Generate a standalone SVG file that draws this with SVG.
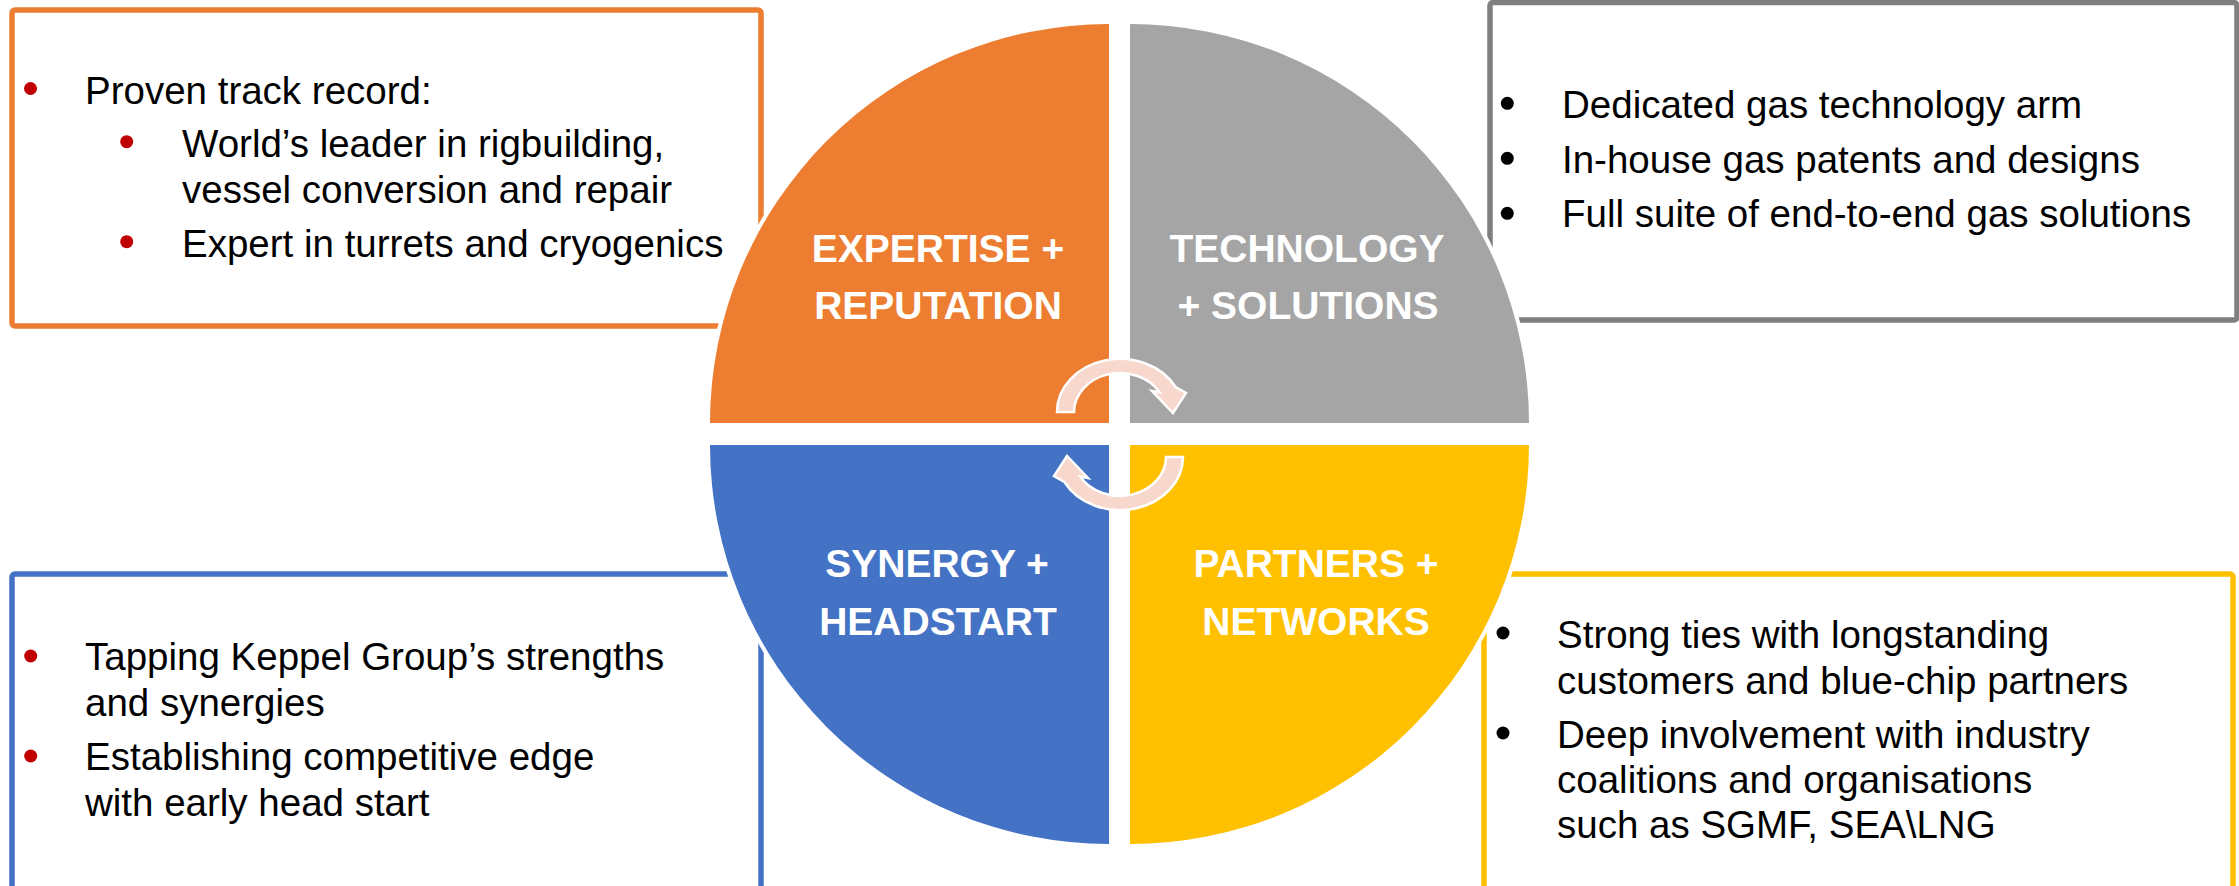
<svg xmlns="http://www.w3.org/2000/svg" width="2239" height="886" viewBox="0 0 2239 886">
<style>
.box{fill:#FFFFFF;stroke-width:5.5}
.q{stroke:#FFFFFF;stroke-width:8;paint-order:stroke}
.lbl{font-family:"Liberation Sans",Arial,sans-serif;font-weight:bold;font-size:39px;fill:#FFFFFF;text-anchor:middle}
.txt{font-family:"Liberation Sans",Arial,sans-serif;font-size:38.5px;fill:#000000}
.rb{fill:#C00000}
.bb{fill:#000000}
.arr{fill:#F8D7CC;stroke:#FFFFFF;stroke-width:2.5;stroke-linejoin:miter}
</style>
<rect width="2239" height="886" fill="#FFFFFF"/>

<g id="box-expertise">
<rect class="box" x="12" y="10" width="749" height="316" rx="3" stroke="#ED7D31"/>
<circle class="rb" cx="30.5" cy="88.5" r="6.5"/>
<text class="txt" x="85" y="104">Proven track record:</text>
<circle class="rb" cx="126.7" cy="141.7" r="6.5"/>
<text class="txt" x="182" y="157">World’s leader in rigbuilding,</text>
<text class="txt" x="182" y="203">vessel conversion and repair</text>
<circle class="rb" cx="126.7" cy="241.7" r="6.5"/>
<text class="txt" x="182" y="257">Expert in turrets and cryogenics</text>
</g>

<g id="box-technology">
<rect class="box" x="1490" y="2.5" width="747" height="317.5" rx="3" stroke="#7F7F7F"/>
<circle class="bb" cx="1507.3" cy="103.3" r="6.5"/>
<text class="txt" x="1562" y="118">Dedicated gas technology arm</text>
<circle class="bb" cx="1507.3" cy="158.3" r="6.5"/>
<text class="txt" x="1562" y="173">In-house gas patents and designs</text>
<circle class="bb" cx="1507.3" cy="213.3" r="6.5"/>
<text class="txt" x="1562" y="227">Full suite of end-to-end gas solutions</text>
</g>

<g id="box-synergy">
<rect class="box" x="12" y="574" width="749" height="400" rx="3" stroke="#4472C4"/>
<circle class="rb" cx="30.7" cy="656" r="6.5"/>
<text class="txt" x="85" y="670">Tapping Keppel Group’s strengths</text>
<text class="txt" x="85" y="716">and synergies</text>
<circle class="rb" cx="30.7" cy="756" r="6.5"/>
<text class="txt" x="85" y="770">Establishing competitive edge</text>
<text class="txt" x="85" y="816">with early head start</text>
</g>

<g id="box-partners">
<rect class="box" x="1484" y="574" width="749" height="400" rx="3" stroke="#FFC000"/>
<circle class="bb" cx="1503" cy="633" r="6.5"/>
<text class="txt" x="1557" y="648">Strong ties with longstanding</text>
<text class="txt" x="1557" y="694">customers and blue-chip partners</text>
<circle class="bb" cx="1503" cy="733" r="6.5"/>
<text class="txt" x="1557" y="748">Deep involvement with industry</text>
<text class="txt" x="1557" y="793">coalitions and organisations</text>
<text class="txt" x="1557" y="838">such as SGMF, SEA\LNG</text>
</g>

<g id="q-expertise">
<path class="q" fill="#ED7D31" d="M1109,423 L710,423 A399,399 0 0 1 1109,24 Z"/>
<text class="lbl" x="938" y="262">EXPERTISE +</text>
<text class="lbl" x="938" y="319">REPUTATION</text>
</g>
<g id="q-technology">
<path class="q" fill="#A5A5A5" d="M1130,423 L1130,24 A399,399 0 0 1 1529,423 Z"/>
<text class="lbl" x="1307" y="262">TECHNOLOGY</text>
<text class="lbl" x="1308" y="319">+ SOLUTIONS</text>
</g>
<g id="q-synergy">
<path class="q" fill="#4472C4" d="M1109,445 L1109,844 A399,399 0 0 1 710,445 Z"/>
<text class="lbl" x="937" y="577">SYNERGY +</text>
<text class="lbl" x="938" y="635">HEADSTART</text>
</g>
<g id="q-partners">
<path class="q" fill="#FFC000" d="M1130,445 L1529,445 A399,399 0 0 1 1130,844 Z"/>
<text class="lbl" x="1316" y="577">PARTNERS +</text>
<text class="lbl" x="1316" y="635">NETWORKS</text>
</g>

<g id="connectors">
<path id="arrow-top" class="arr" d="M1057,412 A63,53 0 0 1 1175.6,387 L1186,393 L1173,413 L1152,391 L1159.8,392.5 A46,39 0 0 0 1074,412 Z"/>
<path id="arrow-bottom" class="arr" transform="rotate(180 1120 434.5)" d="M1057,412 A63,53 0 0 1 1175.6,387 L1186,393 L1173,413 L1152,391 L1159.8,392.5 A46,39 0 0 0 1074,412 Z"/>
</g>
</svg>
